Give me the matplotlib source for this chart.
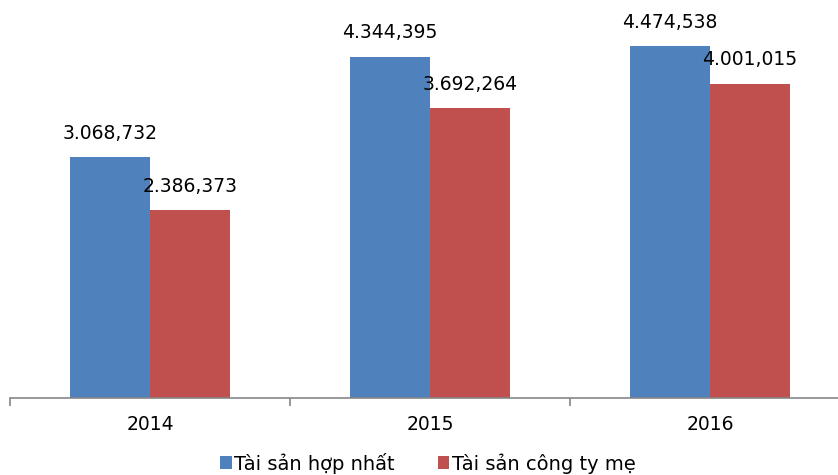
import numpy as np
import matplotlib.pyplot as plt

years = ["2014", "2015", "2016"]
hop_nhat = [3068.732, 4344.395, 4474.538]
cong_ty_me = [2386.373, 3692.264, 4001.015]
lbl_hop_nhat = ["3.068,732", "4.344,395", "4.474,538"]
lbl_cong_ty_me = ["2.386,373", "3.692,264", "4.001,015"]

plt.rcParams['font.family'] = ['DejaVu Sans']

W, H = 838, 475
fig = plt.figure(figsize=(W / 100, H / 100), dpi=100)
# plot area: left 10px, bottom at y=398, top at y=5
ax = fig.add_axes([10 / W, (H - 398) / H, (W - 10) / W, 393 / H])

x = np.arange(len(years))
w = 80 / 280
b1 = ax.bar(x - w / 2, hop_nhat, w, color="#4F81BD", label="Tài sản hợp nhất")
b2 = ax.bar(x + w / 2, cong_ty_me, w, color="#C0504D", label="Tài sản công ty mẹ")

for xi, v, s in zip(x - w / 2, hop_nhat, lbl_hop_nhat):
    ax.text(xi, v + 300, s, ha="center", va="center", fontsize=13.5, color="black")
for xi, v, s in zip(x + w / 2, cong_ty_me, lbl_cong_ty_me):
    ax.text(xi, v + 300, s, ha="center", va="center", fontsize=13.5, color="black")

ax.set_yticks([])
for sp in ["top", "right", "left"]:
    ax.spines[sp].set_visible(False)
ax.spines["bottom"].set_color("#868686")
ax.spines["bottom"].set_linewidth(1.2)

ax.set_xticks(x)
ax.set_xticklabels(years, fontsize=13.5)
ax.tick_params(axis="x", which="major", length=0, pad=12)
ax.set_xticks([-0.5, 0.5, 1.5, 2.5], minor=True)
ax.tick_params(axis="x", which="minor", length=6, color="#868686", width=1.2)
ax.set_xlim(-0.5, 2.5 - 12 / 280)
ax.set_ylim(0, 5000)

ax.legend(loc="center", bbox_to_anchor=(428 / W, (H - 463) / H), bbox_transform=fig.transFigure,
          ncol=2, frameon=False, fontsize=14, handlelength=0.6, handleheight=0.6,
          handletextpad=0.15, columnspacing=2.2)

plt.savefig("out.png", dpi=100)
